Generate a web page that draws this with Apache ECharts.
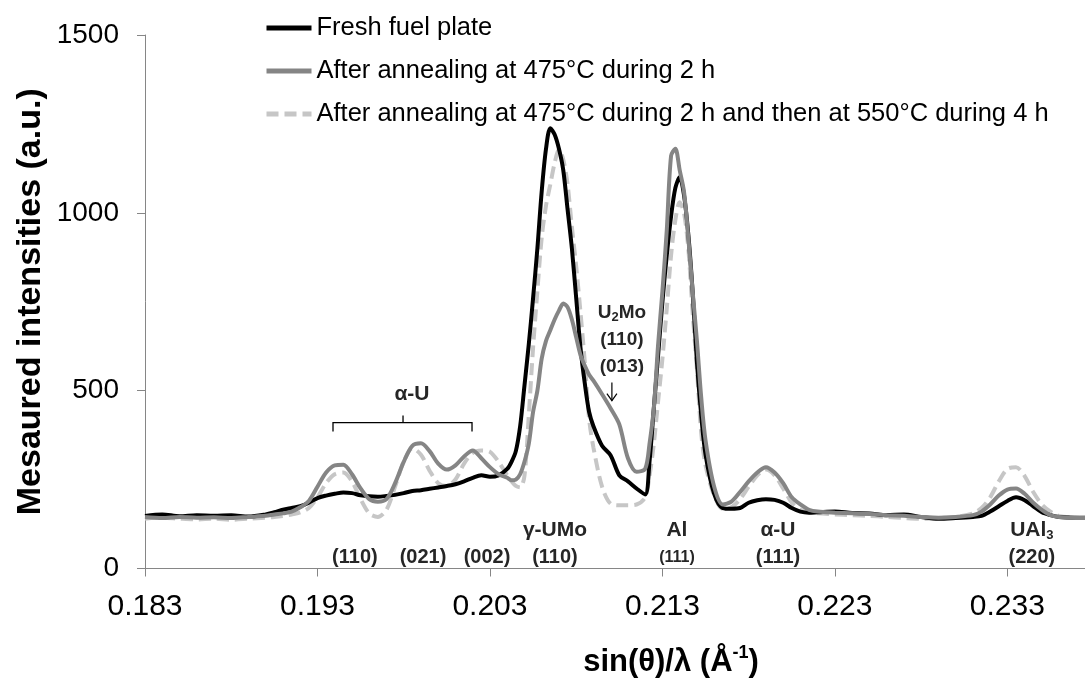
<!DOCTYPE html>
<html>
<head>
<meta charset="utf-8">
<script src="https://cdn.jsdelivr.net/npm/echarts@6/dist/echarts.min.js"></script>
<style>
html, body { margin: 0; padding: 0; background: #fff; }
#chart { width: 1085px; height: 683px; }
</style>
</head>
<body>
<div id="chart"></div>
<script>
// sin(theta)/lambda positions (1/Å) shared by the three diffractograms
const xs = [
  0.1830, 0.1840, 0.1850, 0.1860, 0.1870, 0.1880, 0.1890, 0.1900,
  0.1905, 0.1910, 0.1915, 0.1920, 0.1925,
  0.1930, 0.1935, 0.1940, 0.1945, 0.1950, 0.1955, 0.1960,
  0.1965, 0.1970, 0.1975, 0.1980, 0.1985, 0.1990, 0.1995,
  0.2000, 0.2005, 0.2010, 0.2015, 0.2020, 0.2025, 0.2030, 0.2035,
  0.2040, 0.20425, 0.2045, 0.20475,
  0.2050, 0.20525, 0.2055, 0.20575, 0.2060, 0.20625, 0.2065, 0.20675,
  0.2070, 0.20725, 0.2075, 0.20775, 0.2080, 0.20825, 0.2085, 0.20875, 0.2090,
  0.2095, 0.2100, 0.2105, 0.2110, 0.2115, 0.2120,
  0.21225, 0.2125, 0.21275, 0.2130, 0.21325, 0.2135, 0.21375, 0.2140,
  0.21425, 0.2145, 0.21475, 0.2150, 0.21525, 0.2155,
  0.2160, 0.2165, 0.2170, 0.2175, 0.2180, 0.2185, 0.2190, 0.2195,
  0.2200, 0.2205, 0.2210, 0.2215, 0.2220,
  0.2230, 0.2240, 0.2250, 0.2260, 0.2270, 0.2280, 0.2290, 0.2300, 0.2310,
  0.2315, 0.2320, 0.2325, 0.2330, 0.2335, 0.2340, 0.2345, 0.2350, 0.2355,
  0.2360, 0.2370, 0.2375
];

// Measured intensities (a.u.)
const freshPlate = [
  148, 152, 147, 150, 148, 150, 146, 152,
  158, 165, 170, 175, 185,
  198, 205, 210, 214, 212, 206, 203,
  202, 204, 207, 212, 218, 220, 224,
  228, 232, 237, 245, 255, 262, 258, 262,
  280, 300, 330, 400,
  514, 630, 760, 900, 1060, 1180, 1238, 1220,
  1180, 1120, 1010, 900, 760, 620, 520, 440, 400,
  345, 318, 262, 245, 225, 208,
  300, 450, 600, 750, 880, 990, 1070, 1100,
  1050, 940, 780, 580, 430, 320,
  210, 170, 168, 170, 185, 192, 195, 193,
  185, 170, 160, 157, 158,
  160, 156, 155, 150, 152, 145, 140, 142, 145,
  148, 160, 175, 190, 200, 192, 175, 158, 150,
  145, 143, 143
];

const annealed475 = [
  145, 142, 145, 143, 144, 142, 145, 148,
  152, 155, 160, 172, 190,
  230, 270, 290, 292, 265, 225, 195,
  188, 195, 240, 300, 345, 352, 330,
  295, 278, 290, 315, 332, 310, 285, 265,
  255, 248, 250, 265,
  300, 350, 440, 500, 590, 640, 670, 700,
  725, 745, 735, 700, 650, 600, 570, 545, 528,
  490, 450, 405, 310, 272, 280,
  350, 450, 630, 780, 950, 1160, 1180, 1120,
  1060, 930, 780, 640, 480, 360,
  230, 180, 188, 215, 245, 270, 285, 270,
  240, 200, 180, 165, 160,
  157, 155, 153, 150, 148, 145, 143, 145, 150,
  160, 180, 205, 222, 225, 210, 185, 165, 150,
  145, 142, 142
];

const annealed475then550 = [
  140, 143, 140, 138, 140, 137, 140, 143,
  145, 148, 152, 158, 170,
  200, 240, 265, 270, 245, 195, 155,
  145, 165, 230, 300, 338, 320, 275,
  240, 232, 250, 295, 325, 332, 328, 300,
  262, 245, 232, 228,
  260, 430, 620, 780, 930, 1020, 1080, 1140,
  1178, 1150, 1080, 960, 850, 720, 580, 420, 340,
  230, 182, 178, 178, 180, 200,
  260, 350, 470, 590, 730, 880, 980, 1030,
  1000, 900, 720, 560, 380, 290,
  205, 168, 172, 195, 230, 262, 278, 262,
  225, 185, 165, 158, 155,
  152, 150, 148, 145, 142, 140, 142, 145, 155,
  170, 200, 245, 280, 285, 260, 215, 180, 160,
  148, 143, 142
];

const seriesNames = [
  'Fresh fuel plate',
  'After annealing at 475°C during 2 h',
  'After annealing at 475°C during 2 h and then at 550°C during 4 h'
];

// Reflection labels placed in data space: [x, y, text, fontSize]
const peakLabels = [
  [0.19848, 489, 'α-U', 21],
  [0.19517, 31, '(110)', 20],
  [0.19912, 31, '(021)', 20],
  [0.20283, 31, '(002)', 20],
  [0.20677, 108, 'γ-UMo', 21],
  [0.20677, 31, '(110)', 20],
  [0.21384, 108, 'Al', 21],
  [0.21384, 31, '(111)', 16],
  [0.21970, 108, 'α-U', 21],
  [0.21970, 31, '(111)', 20],
  [0.23442, 31, '(220)', 20],
  [0.21065, 644, '(110)', 19],
  [0.21065, 568, '(013)', 19]
];

const FONT = '"Liberation Sans", Arial, sans-serif';
const INK = '#262626';

const pairs = ys => xs.map((x, i) => [x, ys[i]]);

const chart = echarts.init(document.getElementById('chart'), null, { renderer: 'canvas' });

chart.setOption({
  animation: false,
  backgroundColor: '#fff',
  grid: { left: 145, right: 0, top: 35, bottom: 114, containLabel: false },
  legend: {
    orient: 'vertical',
    left: 259,
    top: 10,
    itemWidth: 45,
    itemHeight: 14,
    itemGap: 17,
    data: seriesNames,
    itemStyle: { opacity: 0 },
    lineStyle: { width: 5 },
    textStyle: { fontSize: 25.5, color: '#000', fontFamily: FONT, lineHeight: 26 },
    selectedMode: false
  },
  xAxis: {
    type: 'value',
    min: 0.183,
    max: 0.2375,
    interval: 0.01,
    axisLine: { lineStyle: { color: '#868686', width: 1 } },
    axisTick: { length: 8, lineStyle: { color: '#868686' } },
    splitLine: { show: false },
    axisLabel: {
      fontSize: 30, color: '#000', fontFamily: FONT, margin: 23,
      showMaxLabel: false,
      formatter: v => v.toFixed(3)
    },
    name: '{b|sin(θ)/λ (Å}{s|-1}{b|)}',
    nameLocation: 'middle',
    nameGap: 76,
    nameMoveOverlap: false,
    nameTextStyle: {
      padding: [0, 0, 0, 112],
      rich: {
        b: { fontSize: 31, fontWeight: 'bold', fontFamily: FONT, color: '#000', lineHeight: 36 },
        s: { fontSize: 18, fontWeight: 'bold', fontFamily: FONT, color: '#000', lineHeight: 18, verticalAlign: 'top' }
      }
    }
  },
  yAxis: {
    type: 'value',
    min: 0,
    max: 1500,
    interval: 500,
    axisLine: { show: true, lineStyle: { color: '#868686', width: 1 } },
    axisTick: { show: true, length: 8, lineStyle: { color: '#868686' } },
    splitLine: { show: false },
    axisLabel: { fontSize: 28, color: '#000', fontFamily: FONT, margin: 26, formatter: v => String(v) },
    name: 'Mesaured intensities (a.u.)',
    nameLocation: 'middle',
    nameGap: 97,
    nameMoveOverlap: false,
    nameTextStyle: { fontSize: 34, fontWeight: 'bold', fontFamily: FONT, color: '#000' }
  },
  series: [
    {
      name: seriesNames[2],
      type: 'line',
      data: pairs(annealed475then550),
      showSymbol: false,
      symbol: 'none',
      smooth: 0.3,
      z: 2,
      lineStyle: { color: '#c6c6c6', width: 4, type: [12, 6] },
      itemStyle: { color: '#c6c6c6' }
    },
    {
      name: seriesNames[0],
      type: 'line',
      data: pairs(freshPlate),
      showSymbol: false,
      symbol: 'none',
      smooth: 0.3,
      z: 3,
      lineStyle: { color: '#000', width: 4 },
      itemStyle: { color: '#000' }
    },
    {
      name: seriesNames[1],
      type: 'line',
      data: pairs(annealed475),
      showSymbol: false,
      symbol: 'none',
      smooth: 0.3,
      z: 4,
      lineStyle: { color: '#858585', width: 4 },
      itemStyle: { color: '#858585' }
    }
  ]
});

// Annotations: reflection labels, α-U bracket and U2Mo arrow
const px = (x, y) => chart.convertToPixel({ gridIndex: 0 }, [x, y]);
const graphics = [];

peakLabels.forEach(([x, y, text, size]) => {
  const p = px(x, y);
  graphics.push({
    type: 'text', x: p[0], y: p[1], z: 10,
    style: {
      text, fontSize: size, fontWeight: 'bold', fontFamily: FONT, fill: INK,
      align: 'center', verticalAlign: 'middle'
    }
  });
});

function subText(x, y, text, size) {
  const p = px(x, y);
  graphics.push({
    type: 'text', x: p[0], y: p[1], z: 10,
    style: {
      text, align: 'center', verticalAlign: 'middle',
      rich: {
        a: { fontSize: size, fontWeight: 'bold', fontFamily: FONT, fill: INK, lineHeight: 24 },
        s: { fontSize: 13, fontWeight: 'bold', fontFamily: FONT, fill: INK, lineHeight: 13, verticalAlign: 'bottom' }
      }
    }
  });
}
subText(0.23442, 108, '{a|UAl}{s|3}', 21);
subText(0.21065, 720, '{a|U}{s|2}{a|Mo}', 19);

// bracket over the α-U reflections
const bracket = [[0.19390, 385], [0.19390, 410], [0.20196, 410], [0.20196, 385]].map(d => px(d[0], d[1]));
graphics.push({ type: 'polyline', z: 10, shape: { points: bracket }, style: { stroke: '#000', lineWidth: 1.3, fill: null } });
const mid = [[0.19796, 410], [0.19796, 430]].map(d => px(d[0], d[1]));
graphics.push({ type: 'polyline', z: 10, shape: { points: mid }, style: { stroke: '#000', lineWidth: 1.3, fill: null } });

// arrow pointing at the U2Mo shoulder
const tip = px(0.21007, 472);
const tail = px(0.21007, 523);
graphics.push({ type: 'polyline', z: 10, shape: { points: [tail, tip] }, style: { stroke: '#000', lineWidth: 1.2, fill: null } });
graphics.push({
  type: 'polyline', z: 10,
  shape: { points: [[tip[0] - 5, tip[1] - 7], tip, [tip[0] + 5, tip[1] - 7]] },
  style: { stroke: '#000', lineWidth: 1.2, fill: null }
});

chart.setOption({ graphic: graphics });
</script>
</body>
</html>
